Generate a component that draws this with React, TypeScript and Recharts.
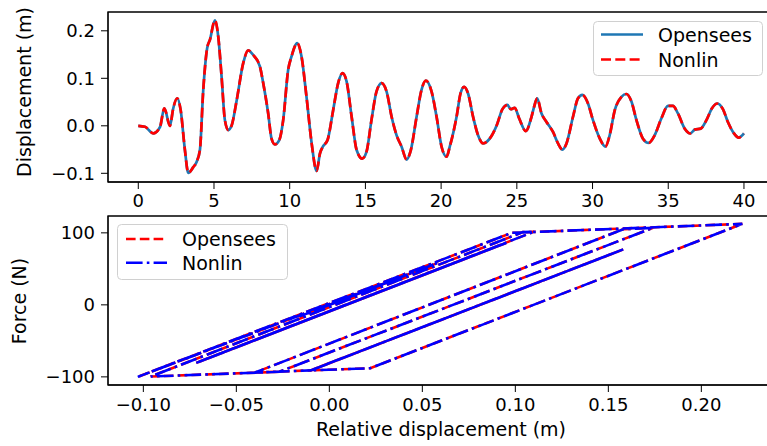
import React from 'react'
import { LineChart, Line, XAxis, YAxis, ReferenceArea, Legend } from 'recharts'

// displacement time history (both solvers overlap in the figure)
const timeS = [
  0, 0.44, 1.0, 1.43, 1.72, 2.09, 2.31, 2.57, 2.8, 3.08, 3.3, 3.63, 3.85, 4.07, 4.29, 4.55, 4.73, 5.06,
  5.28, 5.5, 5.72, 5.94, 6.16, 6.5, 6.93, 7.26, 7.59, 8.03, 8.25, 8.58, 8.8, 9.02, 9.31, 9.57, 9.9,
  10.12, 10.5, 10.78, 11.11, 11.45, 11.78, 12.0, 12.21, 12.5, 12.87, 13.2, 13.49, 13.76, 14.09, 14.42,
  14.79, 15.07, 15.4, 15.73, 16.07, 16.4, 16.73, 17.06, 17.39, 17.72, 18.0, 18.38, 18.7, 18.99, 19.37,
  19.7, 20.03, 20.36, 20.57, 21.02, 21.28, 21.52, 21.78, 22.11, 22.44, 22.77, 23.21, 23.66, 24.05,
  24.38, 24.6, 24.86, 25.15, 25.59, 25.97, 26.14, 26.34, 26.63, 26.96, 27.39, 27.72, 28.01, 28.28,
  28.71, 29.04, 29.33, 29.7, 30.03, 30.48, 30.85, 31.13, 31.47, 31.91, 32.24, 32.57, 32.9, 33.33,
  33.71, 34.1, 34.55, 34.98, 35.31, 35.64, 36.09, 36.46, 36.75, 37.14, 37.52, 37.89, 38.24, 38.61,
  38.94, 39.34, 39.65, 40.0,
]
const dispOpensees = [
  0, -0.002, -0.016, -0.003, 0.037, 0.0, 0.037, 0.058, 0.033, -0.051, -0.099, -0.087, -0.076, -0.051,
  0.075, 0.164, 0.181, 0.222, 0.188, 0.104, 0.012, -0.009, 0.0, 0.054, 0.132, 0.159, 0.149, 0.125,
  0.09, 0.026, -0.027, -0.039, -0.03, 0.012, 0.118, 0.146, 0.174, 0.146, 0.061, -0.037, -0.095,
  -0.058, -0.043, -0.03, 0.033, 0.09, 0.111, 0.093, 0.019, -0.051, -0.069, -0.055, 0.012, 0.072,
  0.09, 0.072, 0.019, -0.02, -0.044, -0.071, -0.051, 0.019, 0.075, 0.095, 0.072, 0.019, -0.044,
  -0.065, -0.044, 0.019, 0.068, 0.082, 0.068, 0.019, -0.02, -0.037, -0.027, 0.0, 0.035, 0.044,
  0.035, 0.038, 0.016, -0.011, 0.019, 0.04, 0.058, 0.026, 0.008, -0.013, -0.037, -0.05, -0.037,
  0.019, 0.058, 0.065, 0.047, 0.012, -0.027, -0.044, -0.02, 0.033, 0.061, 0.067, 0.051, 0.012,
  -0.027, -0.036, -0.02, 0.016, 0.042, 0.042, 0.026, -0.006, -0.016, -0.008, -0.006, 0.012, 0.037,
  0.047, 0.035, 0.008, -0.016, -0.025, -0.016,
]
const dispNonlin = dispOpensees

// hysteresis turning points, force vs relative displacement
const relDisp = [
  0, -0.016, 0.037, 0.0, 0.058, -0.103, 0.098, 0.222, 0.022, -0.01, 0.158, -0.01, -0.04, 0.158,
  0.174, -0.027, -0.096, 0.104, 0.11, -0.07, 0.09, -0.072, 0.095, -0.066, 0.082, -0.038, 0.044,
  -0.012, 0.058, -0.05, 0.065, -0.045, 0.067, -0.037, 0.042, -0.017, 0.047, -0.025, -0.016,
]
const forceOpensees = [
  0, -16, 37, 0, 58, -100, 100, 112.5, -88, -91, 77, -91, -94, 105, 107, -93, -99.5, 101, 101.5,
  -79, 81, -81, 86, -75, 73, -47, 35, -21, 49, -59, 56, -54, 58, -46, 33, -26, 38, -34, -25,
]
const forceNonlin = forceOpensees

const timeTicks = [0, 5, 10, 15, 20, 25, 30, 35, 40]
const dispTicks = [-0.1, 0, 0.1, 0.2]
const relTicks = [-0.1, -0.05, 0, 0.05, 0.1, 0.15, 0.2]
const forceTicks = [-100, 0, 100]

const FONT = 'DejaVu Sans'
const tickStyle = { fill: '#000', fontSize: 18, fontFamily: FONT }
const minus = (s: string) => s.replace('-', '\u2212')

const topRows = timeS.map((t, i) => ({ t, opensees: dispOpensees[i], nonlin: dispNonlin[i] }))
const hystRows = relDisp.map((x, i) => ({ x, opensees: forceOpensees[i], nonlin: forceNonlin[i] }))

function AxisTitle({ px, py, rot, text }: any) {
  return (
    <text
      x={px}
      y={py}
      transform={rot ? `rotate(-90, ${px}, ${py})` : undefined}
      textAnchor="middle"
      dominantBaseline="central"
      fontFamily={FONT}
      fontSize={19}
      fill="#000"
    >
      {text}
    </text>
  )
}

type Entry = { name: string; color: string; dash: string }

function LegendBox({ entries, w, h, hx1, hx2, tx, rows }: any) {
  return (
    <svg width={w} height={h} style={{ display: 'block' }}>
      <rect x={0.5} y={0.5} width={w - 1} height={h - 1} rx={4} fill="rgba(255,255,255,0.8)" stroke="#d0d0d0" />
      {(entries as Entry[]).map((e, i) => (
        <g key={e.name}>
          <line x1={hx1} x2={hx2} y1={rows[i]} y2={rows[i]} stroke={e.color} strokeWidth={2.6} strokeDasharray={e.dash} />
          <text x={tx} y={rows[i]} dominantBaseline="central" fontFamily={FONT} fontSize={19} fill="#000">
            {e.name}
          </text>
        </g>
      ))}
    </svg>
  )
}

const topDomX: [number, number] = [-2, 42.05]
const topDomY: [number, number] = [-0.1183, 0.2396]
const botDomX: [number, number] = [-0.119, 0.2396]
const botDomY: [number, number] = [-111.3, 123.4]

export default function App() {
  return (
    <div style={{ position: 'fixed', left: 0, top: 0, width: 767, height: 446, overflow: 'hidden', background: '#fff' }}>
      <div style={{ position: 'absolute', left: 0, top: 0 }}>
        <LineChart width={800} height={210} data={topRows} margin={{ top: 12, right: 25, bottom: 0, left: 0 }}>
          <XAxis
            dataKey="t"
            type="number"
            domain={topDomX}
            ticks={timeTicks}
            allowDataOverflow
            height={28}
            tick={tickStyle}
            tickSize={7}
            tickMargin={5}
            stroke="#000"
            interval={0}
          />
          <YAxis
            type="number"
            domain={topDomY}
            ticks={dispTicks}
            allowDataOverflow
            width={108}
            tick={tickStyle}
            tickSize={7}
            tickMargin={6}
            stroke="#000"
            interval={0}
            tickFormatter={(v: number) => minus(v.toFixed(1))}
            label={<AxisTitle px={24} py={92} rot text="Displacement (m)" />}
          />
          <ReferenceArea x1={topDomX[0]} x2={topDomX[1]} y1={topDomY[0]} y2={topDomY[1]} fill="none" stroke="#000" strokeWidth={1.3} />
          <Line dataKey="opensees" name="Opensees" type="monotone" stroke="#1f77b4" strokeWidth={2.7} dot={false} isAnimationActive={false} />
          <Line dataKey="nonlin" name="Nonlin" type="monotone" stroke="#ff0000" strokeWidth={2.7} strokeDasharray="10 4.3" dot={false} isAnimationActive={false} />
          <Legend
            layout="vertical"
            align="center"
            verticalAlign="middle"
            wrapperStyle={{ left: 593, top: 21, width: 170 }}
            content={() => (
              <LegendBox
                w={170}
                h={55}
                hx1={8}
                hx2={50}
                tx={65}
                rows={[13.5, 38.5]}
                entries={[
                  { name: 'Opensees', color: '#1f77b4', dash: '' },
                  { name: 'Nonlin', color: '#ff0000', dash: '10 4.3' },
                ]}
              />
            )}
          />
        </LineChart>
      </div>
      <div style={{ position: 'absolute', left: 0, top: 210 }}>
        <LineChart width={800} height={236} data={hystRows} margin={{ top: 6, right: 25, bottom: 0, left: 0 }}>
          <XAxis
            dataKey="x"
            type="number"
            domain={botDomX}
            ticks={relTicks}
            allowDataOverflow
            height={61}
            tick={tickStyle}
            tickSize={7}
            tickMargin={6}
            stroke="#000"
            interval={0}
            tickFormatter={(v: number) => minus(v.toFixed(2))}
            label={<AxisTitle px={441} py={219} text="Relative displacement (m)" />}
          />
          <YAxis
            type="number"
            domain={botDomY}
            ticks={forceTicks}
            allowDataOverflow
            width={108}
            tick={tickStyle}
            tickSize={7}
            tickMargin={6}
            stroke="#000"
            interval={0}
            tickFormatter={(v: number) => minus(String(v))}
            label={<AxisTitle px={19} py={91} rot text="Force (N)" />}
          />
          <ReferenceArea x1={botDomX[0]} x2={botDomX[1]} y1={botDomY[0]} y2={botDomY[1]} fill="none" stroke="#000" strokeWidth={1.3} />
          <Line dataKey="opensees" name="Opensees" type="linear" stroke="#ff0000" strokeWidth={2.6} strokeDasharray="9.6 4.2" dot={false} isAnimationActive={false} />
          <Line dataKey="nonlin" name="Nonlin" type="linear" stroke="#0000ff" strokeWidth={2.6} strokeDasharray="16.6 4.2 2.6 4.2" dot={false} isAnimationActive={false} />
          <Legend
            layout="vertical"
            align="center"
            verticalAlign="middle"
            wrapperStyle={{ left: 117, top: 14, width: 171 }}
            content={() => (
              <LegendBox
                w={171}
                h={56}
                hx1={9}
                hx2={50}
                tx={65}
                rows={[15, 38.7]}
                entries={[
                  { name: 'Opensees', color: '#ff0000', dash: '9.6 4.2' },
                  { name: 'Nonlin', color: '#0000ff', dash: '16.6 4.2 2.6 4.2' },
                ]}
              />
            )}
          />
        </LineChart>
      </div>
    </div>
  )
}
